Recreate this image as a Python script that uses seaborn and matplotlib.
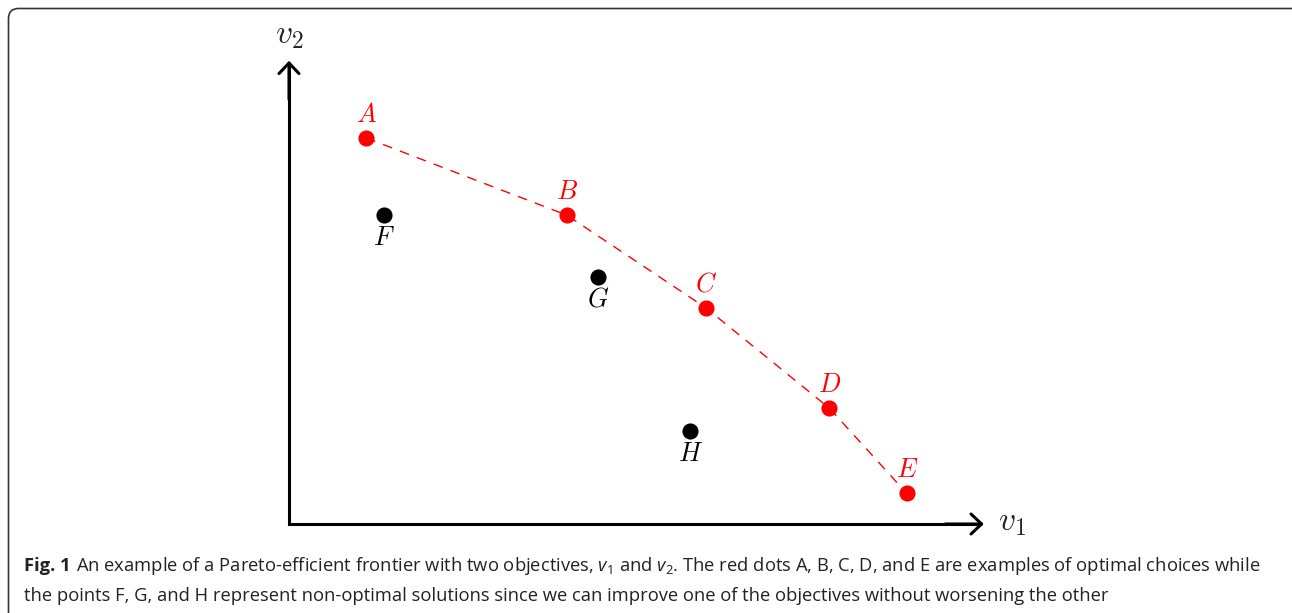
import matplotlib
matplotlib.use("Agg")
import matplotlib.pyplot as plt
import matplotlib.patches as mpatches
from matplotlib.transforms import IdentityTransform
import seaborn as sns

# Pareto frontier points (red) and non-optimal points (black)
pareto_names = ["A", "B", "C", "D", "E"]
pareto_v1 = [2.0, 7.2, 10.8, 14.0, 16.0]
pareto_v2 = [10.0, 8.0, 5.6, 3.0, 0.8]

other_names = ["F", "G", "H"]
other_v1 = [2.45, 8.0, 10.4]
other_v2 = [8.0, 6.4, 2.4]

# axis lengths
v1_max = 18.0
v2_max = 12.0

caption_head = "Fig. 1"
caption_1 = (r"An example of a Pareto-efficient frontier with two objectives, "
             r"$v_1$ and $v_2$. The red dots A, B, C, D, and E are examples of optimal choices while")
caption_2 = ("the points F, G, and H represent non-optimal solutions since we can improve one of "
             "the objectives without worsening the other")

sns.set_theme(style="white")
plt.rcParams["font.family"] = ["Open Sans", "DejaVu Sans"]
plt.rcParams["mathtext.fontset"] = "custom"
plt.rcParams["mathtext.rm"] = "Open Sans"
plt.rcParams["mathtext.it"] = "Open Sans:italic"
plt.rcParams["mathtext.bf"] = "Open Sans:bold"

W, H = 1292, 613
fig = plt.figure(figsize=(W / 100, H / 100), dpi=100)
ax = fig.add_axes([0, 0, 1, 1])
ax.axis("off")

# map data units to the picture (origin at px 289, 524; 38.6 px per unit)
scale = 38.6
ax.set_xlim(-289 / scale, (W - 289) / scale)
ax.set_ylim(-(H - 524) / scale, 524 / scale)

# axes with arrows
ax.plot([0, 0, v1_max - 0.1], [v2_max - 0.1, 0, 0], color="black", lw=2.2,
        solid_joinstyle="miter", solid_capstyle="butt", zorder=2)
arrow = dict(arrowstyle="->,head_length=0.38,head_width=0.36", lw=2.2, color="black",
             mutation_scale=20, shrinkA=0, shrinkB=0)
ax.annotate("", xy=(v1_max, 0), xytext=(v1_max - 1, 0), arrowprops=arrow)
ax.annotate("", xy=(0, v2_max), xytext=(0, v2_max - 1), arrowprops=arrow)
ax.text(v1_max + 0.72, 0.05, r"$v_1$", math_fontfamily="cm", fontsize=24,
        ha="center", va="center")
ax.text(0, v2_max + 0.68, r"$v_2$", math_fontfamily="cm", fontsize=24,
        ha="center", va="center")

# frontier
sns.lineplot(x=pareto_v1, y=pareto_v2, sort=False, color="red", lw=1.0,
             linestyle=(0, (7, 6)), ax=ax, zorder=3)
sns.scatterplot(x=pareto_v1, y=pareto_v2, color="red", s=135, linewidth=0, ax=ax, zorder=4)
sns.scatterplot(x=other_v1, y=other_v2, color="black", s=135, linewidth=0, ax=ax, zorder=4)

for name, x, y in zip(pareto_names, pareto_v1, pareto_v2):
    ax.annotate(f"${name}$", (x, y), xytext=(0, 10), textcoords="offset pixels",
                ha="center", va="bottom", color="red", fontsize=19, math_fontfamily="cm")
for name, x, y in zip(other_names, other_v1, other_v2):
    ax.annotate(f"${name}$", (x, y), xytext=(0, -11), textcoords="offset pixels",
                ha="center", va="top", color="black", fontsize=19, math_fontfamily="cm")

# caption
y1 = 1 - 571 / H
head = fig.text(24 / W, y1, caption_head, fontsize=13.2, fontweight="bold",
                ha="left", va="baseline", color="#222222")
ax.annotate(caption_1, xy=(1, y1), xycoords=(head, "figure fraction"),
            xytext=(5, 0), textcoords="offset pixels", fontsize=13.2,
            ha="left", va="baseline", color="#222222")
fig.text(24 / W, 1 - 601 / H, caption_2, fontsize=13.2, ha="left", va="baseline", color="#222222")

# rounded frame (cut off at right and bottom)
frame = mpatches.FancyBboxPatch((8.5, -40), W + 40, H - 8.5 + 40,
                                boxstyle="round,pad=0,rounding_size=10",
                                fill=False, edgecolor="#333333", lw=1.2,
                                transform=IdentityTransform())
fig.patches.append(frame)

fig.savefig("out.png", dpi=100)
